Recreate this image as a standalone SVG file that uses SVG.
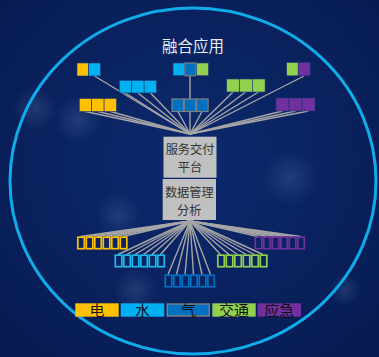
<svg xmlns="http://www.w3.org/2000/svg" xmlns:xlink="http://www.w3.org/1999/xlink" width="379" height="357" viewBox="0 0 379 357">
<style>
.ln{stroke:#a6a6a6;stroke-width:1.4;fill:none}
.y{fill:#ffc000}.c{fill:#00b0f0}.b{fill:#0070c0}.g{fill:#92d050}.p{fill:#7030a0}
.sq{stroke-width:0.6;stroke:#1a3a70}
.bb{stroke:#7f7f7f;stroke-width:1.2}
.ty{fill:none;stroke:#ffc000;stroke-width:1.7}
.tc{fill:none;stroke:#1fb8ea;stroke-width:1.7}
.tb{fill:none;stroke:#0070c0;stroke-width:1.7}
.tg{fill:none;stroke:#92d050;stroke-width:1.7}
.tp{fill:none;stroke:#7030a0;stroke-width:1.7}
.box{fill:#c0c0c0}
.bt{font-family:"Noto Sans CJK SC","Liberation Sans",sans-serif;font-size:12.2px;fill:#333;text-anchor:middle}
.lt{font-family:"Noto Sans CJK SC","Liberation Sans",sans-serif;font-size:15px;fill:#111;text-anchor:middle}
</style>
<defs>
<radialGradient id="glow">
<stop offset="0" stop-color="#7f9ad0" stop-opacity="0.2"/>
<stop offset="1" stop-color="#7f9ad0" stop-opacity="0"/>
</radialGradient>
<radialGradient id="bg" cx="0.5" cy="0.45" r="0.7">
<stop offset="0" stop-color="#0d2a6e"/>
<stop offset="1" stop-color="#071b52"/>
</radialGradient>
<g id="tofu"><rect x="0" y="0" width="6.5" height="11.5"/><rect x="8.5" y="0" width="6.5" height="11.5"/><rect x="17" y="0" width="6.5" height="11.5"/><rect x="25.5" y="0" width="6.5" height="11.5"/><rect x="34" y="0" width="6.5" height="11.5"/><rect x="42.5" y="0" width="6.5" height="11.5"/></g>
</defs>
<rect width="379" height="357" fill="url(#bg)"/>
<circle cx="35" cy="108" r="22" fill="url(#glow)"/>
<circle cx="290" cy="178" r="28" fill="url(#glow)"/>
<circle cx="118" cy="215" r="22" fill="url(#glow)"/>
<circle cx="135" cy="290" r="22" fill="url(#glow)"/>
<circle cx="345" cy="290" r="16" fill="url(#glow)"/>
<circle cx="78" cy="120" r="24" fill="url(#glow)"/>
<ellipse cx="193" cy="181" rx="183" ry="173" fill="none" stroke="#10acea" stroke-width="3"/>
<text x="193" y="52" font-family="'Noto Sans CJK SC','Liberation Sans',sans-serif" font-size="15.5" fill="#e6ecf6" text-anchor="middle">融合应用</text>

<g id="connectors">
<line class="ln" x1="94.5" y1="76" x2="190" y2="134"/>
<line class="ln" x1="125.5" y1="93" x2="190" y2="134"/>
<line class="ln" x1="138" y1="93" x2="190" y2="134"/>
<line class="ln" x1="150.5" y1="93" x2="190" y2="134"/>
<line class="ln" x1="85.5" y1="111.5" x2="190" y2="134"/>
<line class="ln" x1="98" y1="111.5" x2="190" y2="134"/>
<line class="ln" x1="110.5" y1="111.5" x2="190" y2="134"/>
<line class="ln" x1="190" y1="76" x2="190" y2="99"/>
<line class="ln" x1="178" y1="111.5" x2="190" y2="134"/>
<line class="ln" x1="190" y1="111.5" x2="190" y2="134"/>
<line class="ln" x1="202" y1="111.5" x2="190" y2="134"/>
<line class="ln" x1="233" y1="92" x2="190" y2="134"/>
<line class="ln" x1="245.5" y1="92" x2="190" y2="134"/>
<line class="ln" x1="258.5" y1="92" x2="190" y2="134"/>
<line class="ln" x1="282.5" y1="111" x2="190" y2="134"/>
<line class="ln" x1="295.5" y1="111" x2="190" y2="134"/>
<line class="ln" x1="308.5" y1="111" x2="190" y2="134"/>
<line class="ln" x1="304" y1="76" x2="190" y2="134"/>
<line class="ln" x1="190" y1="221" x2="80.5" y2="236.5"/>
<line class="ln" x1="190" y1="221" x2="89" y2="236.5"/>
<line class="ln" x1="190" y1="221" x2="97.5" y2="236.5"/>
<line class="ln" x1="190" y1="221" x2="106" y2="236.5"/>
<line class="ln" x1="190" y1="221" x2="114.5" y2="236.5"/>
<line class="ln" x1="190" y1="221" x2="123" y2="236.5"/>
<line class="ln" x1="190" y1="221" x2="118" y2="254.5"/>
<line class="ln" x1="190" y1="221" x2="126.5" y2="254.5"/>
<line class="ln" x1="190" y1="221" x2="135" y2="254.5"/>
<line class="ln" x1="190" y1="221" x2="143.5" y2="254.5"/>
<line class="ln" x1="190" y1="221" x2="152" y2="254.5"/>
<line class="ln" x1="190" y1="221" x2="160.5" y2="254.5"/>
<line class="ln" x1="190" y1="221" x2="168" y2="274.5"/>
<line class="ln" x1="190" y1="221" x2="176.5" y2="274.5"/>
<line class="ln" x1="190" y1="221" x2="185" y2="274.5"/>
<line class="ln" x1="190" y1="221" x2="193.5" y2="274.5"/>
<line class="ln" x1="190" y1="221" x2="202" y2="274.5"/>
<line class="ln" x1="190" y1="221" x2="210.5" y2="274.5"/>
<line class="ln" x1="190" y1="221" x2="220.5" y2="254.5"/>
<line class="ln" x1="190" y1="221" x2="229" y2="254.5"/>
<line class="ln" x1="190" y1="221" x2="237.5" y2="254.5"/>
<line class="ln" x1="190" y1="221" x2="246" y2="254.5"/>
<line class="ln" x1="190" y1="221" x2="254.5" y2="254.5"/>
<line class="ln" x1="190" y1="221" x2="263" y2="254.5"/>
<line class="ln" x1="190" y1="221" x2="258" y2="236.5"/>
<line class="ln" x1="190" y1="221" x2="266.5" y2="236.5"/>
<line class="ln" x1="190" y1="221" x2="275" y2="236.5"/>
<line class="ln" x1="190" y1="221" x2="283.5" y2="236.5"/>
<line class="ln" x1="190" y1="221" x2="292" y2="236.5"/>
<line class="ln" x1="190" y1="221" x2="300.5" y2="236.5"/>
</g>

<g id="app-pair-left">
<rect class="y sq" x="77" y="63" width="11.5" height="13"/>
<rect class="c sq" x="88.5" y="63" width="12" height="13"/>
</g>
<g id="app-cyan">
<rect class="c sq" x="119.3" y="80.3" width="12.4" height="12.7"/>
<rect class="c sq" x="131.7" y="80.3" width="12.4" height="12.7"/>
<rect class="c sq" x="144.1" y="80.3" width="12.4" height="12.7"/>
</g>
<g id="app-yellow">
<rect class="y sq" x="79.3" y="98.5" width="12.4" height="13"/>
<rect class="y sq" x="91.7" y="98.5" width="12.4" height="13"/>
<rect class="y sq" x="104.1" y="98.5" width="12.4" height="13"/>
</g>
<g id="app-mid-top">
<rect class="c sq" x="173" y="63" width="11.5" height="12.7"/>
<rect class="b bb" x="185" y="63" width="11" height="12.7"/>
<rect class="g sq" x="196.5" y="63" width="12" height="12.7"/>
</g>
<g id="app-blue">
<rect class="b bb" x="172" y="99" width="11.5" height="12.5"/>
<rect class="b bb" x="184.3" y="99" width="11.5" height="12.5"/>
<rect class="b bb" x="196.6" y="99" width="11.5" height="12.5"/>
</g>
<g id="app-green">
<rect class="g sq" x="226.7" y="79" width="12.8" height="13"/>
<rect class="g sq" x="239.5" y="79" width="12.8" height="13"/>
<rect class="g sq" x="252.3" y="79" width="12.8" height="13"/>
</g>
<g id="app-pair-right">
<rect class="g sq" x="286.7" y="62.5" width="11.5" height="13.3"/>
<rect class="p sq" x="298.2" y="62.5" width="12" height="13.3"/>
</g>
<g id="app-purple">
<rect class="p sq" x="276" y="98" width="13" height="13"/>
<rect class="p sq" x="289" y="98" width="13" height="13"/>
<rect class="p sq" x="302" y="98" width="13" height="13"/>
</g>

<g id="service-platform">
<rect class="box" x="163.5" y="136.7" width="53" height="41"/>
<text class="bt"><tspan x="190" y="154">服务交付</tspan><tspan x="190" y="172">平台</tspan></text>
</g>
<g id="data-mgmt">
<rect class="box" x="162.7" y="179" width="53.3" height="41"/>
<text class="bt"><tspan x="189.3" y="197">数据管理</tspan><tspan x="189.3" y="215">分析</tspan></text>
</g>

<g id="src-yellow" class="ty"><use xlink:href="#tofu" x="77.8" y="237.2"/></g>
<g id="src-cyan" class="tc"><use xlink:href="#tofu" x="115.3" y="255.2"/></g>
<g id="src-blue" class="tb"><use xlink:href="#tofu" x="165.3" y="275.2"/></g>
<g id="src-green" class="tg"><use xlink:href="#tofu" x="217.8" y="255.2"/></g>
<g id="src-purple" class="tp"><use xlink:href="#tofu" x="255.3" y="237.2"/></g>

<g id="legend-elec"><rect class="y" x="75.3" y="303.3" width="43.4" height="13.4"/><text class="lt" x="97" y="315.5">电</text></g>
<g id="legend-water"><rect class="c" x="120.7" y="303.3" width="43.6" height="13.4"/><text class="lt" x="142.5" y="315.5">水</text></g>
<g id="legend-gas"><rect class="b" x="167.3" y="304" width="42" height="12" stroke="#7f7f7f" stroke-width="1.4"/><text class="lt" x="188.5" y="315.5">气</text></g>
<g id="legend-traffic"><rect class="g" x="212.3" y="303.3" width="43.4" height="13.4"/><text class="lt" x="234" y="315.5">交通</text></g>
<g id="legend-emerg"><rect class="p" x="257.7" y="303.3" width="43.3" height="13.4"/><text class="lt" x="279.3" y="315.5">应急</text></g>
</svg>
